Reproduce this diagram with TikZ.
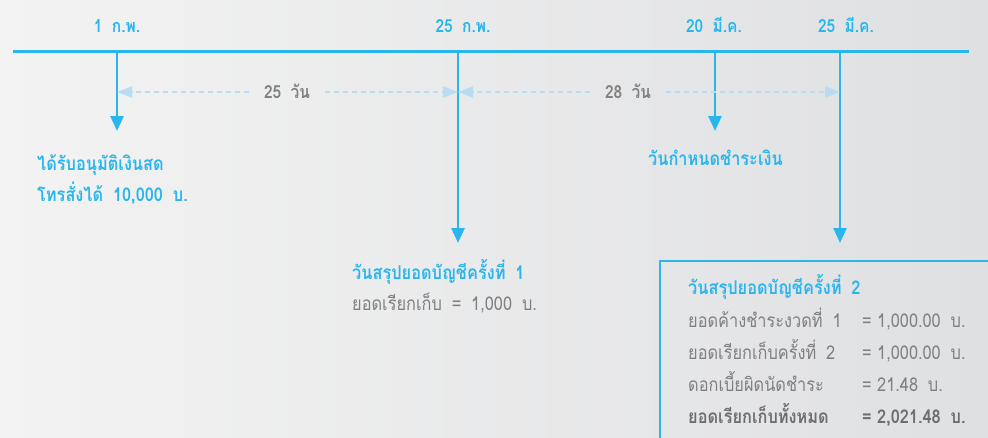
\documentclass[tikz,border=0pt]{standalone}
\usepackage{fontspec}
\newfontfamily\thai[Script=Thai, FakeStretch=0.86, WordSpace=1.8]{Loma}
\usetikzlibrary{arrows.meta}
\definecolor{tblue}{HTML}{29B6EC}
\definecolor{tdash}{HTML}{B8DDF3}
\definecolor{tgray}{HTML}{808080}
\definecolor{tdark}{HTML}{6E6E6E}
\definecolor{bgl}{HTML}{F3F3F3}
\definecolor{bgr}{HTML}{DFE0E2}
\tikzset{
  tline/.style={tblue, line width=3pt},
  vline/.style={tblue, line width=2.6pt, -{Triangle[length=15pt,width=13pt]}},
  dsh/.style={tdash, line width=1.5pt, dash pattern=on 5pt off 4pt, -{Triangle[length=15pt,width=11pt]}},
  date/.style={text=tblue, font=\thai\bfseries\fontsize{18}{21}\selectfont, inner sep=0pt, anchor=base},
  gap/.style={text=tgray, font=\thai\bfseries\fontsize{18}{21}\selectfont, inner xsep=15pt, inner ysep=0pt, anchor=base},
  btitle/.style={text=tblue, font=\thai\bfseries\fontsize{19}{22}\selectfont, inner sep=0pt, anchor=base west},
  gtext/.style={text=tgray, font=\thai\fontsize{19}{22}\selectfont, inner sep=0pt, anchor=base west},
  gbold/.style={text=tdark, font=\thai\bfseries\fontsize{19}{22}\selectfont, inner sep=0pt, anchor=base west},
}
\begin{document}
\begin{tikzpicture}[x=1pt,y=-1pt]
\shade[left color=bgl, right color=bgr] (0,0) rectangle (988,437);
\useasboundingbox (0,0) rectangle (988,437);
% timeline
\coordinate (L) at (13,51);
\coordinate (R) at (969,51);
\draw[tline] (L) -- (R);
\coordinate (t1) at (117,51);
\coordinate (t2) at (458,51);
\coordinate (t3) at (715,51);
\coordinate (t4) at (840,51);
\coordinate (e1) at (117,131);
\coordinate (e2) at (458,243);
\coordinate (e3) at (715,131);
\coordinate (e4) at (840,243);
\draw[vline] (t1) -- (e1);
\draw[vline] (t2) -- (e2);
\draw[vline] (t3) -- (e3);
\draw[vline] (t4) -- (e4);
% dates
\node[date] (d1) at (117,32) {1 ก.พ.};
\node[date] (d2) at (463,32) {25 ก.พ.};
\node[date] (d3) at (714,32) {20 มี.ค.};
\node[date] (d4) at (846,32) {25 มี.ค.};
% durations
\coordinate (a1) at (117,92);
\coordinate (a2) at (458,92);
\coordinate (a3) at (840,92);
\node[gap] (g1) at (287,98) {25 วัน};
\node[gap] (g2) at (628,98) {28 วัน};
\draw[dsh] (g1.west |- a1) -- (a1);
\draw[dsh] (g1.east |- a2) -- (a2);
\draw[dsh] (g2.west |- a2) -- (a2);
\draw[dsh] (g2.east |- a3) -- (a3);
% labels
\node[btitle] (n1a) at (37,170) {ได้รับอนุมัติเงินสด};
\node[btitle] (n1b) at (37,201) {โทรสั่งได้ 10,000 บ.};
\node[btitle] (n3) at (648,165) {วันกำหนดชำระเงิน};
\node[btitle] (n2a) at (352,279) {วันสรุปยอดบัญชีครั้งที่ 1};
\node[gtext] (n2b) at (352,310) {ยอดเรียกเก็บ = 1,000 บ.};
% box
\coordinate (bx1) at (992,261);
\coordinate (bx2) at (660,261);
\coordinate (bx3) at (660,441);
\draw[tblue, line width=2.2pt] (bx1) -- (bx2) -- (bx3);
\node[btitle] (b0) at (688,294) {วันสรุปยอดบัญชีครั้งที่ 2};
\node[gtext] (b1) at (688,327) {ยอดค้างชำระงวดที่ 1};
\node[gtext] (b2) at (688,359) {ยอดเรียกเก็บครั้งที่ 2};
\node[gtext] (b3) at (688,391) {ดอกเบี้ยผิดนัดชำระ};
\node[gbold] (b4) at (688,423) {ยอดเรียกเก็บทั้งหมด};
\node[gtext] (q1) at (862,327) {=};
\node[gtext] (q2) at (862,359) {=};
\node[gtext] (q3) at (862,391) {=};
\node[gbold] (q4) at (862,423) {=};
\node[gtext] (v1) at (877,327) {1,000.00 บ.};
\node[gtext] (v2) at (877,359) {1,000.00 บ.};
\node[gtext] (v3) at (877,391) {21.48 บ.};
\node[gbold] (v4) at (877,423) {2,021.48 บ.};
\end{tikzpicture}
\end{document}
